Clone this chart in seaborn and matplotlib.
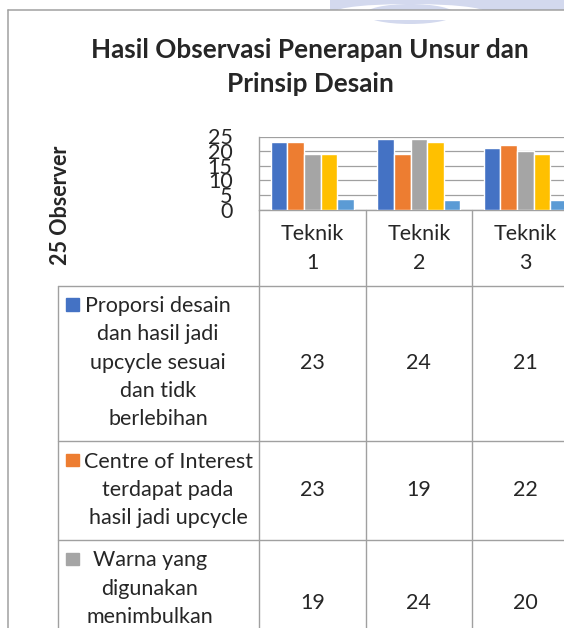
import matplotlib
matplotlib.use("Agg")
import matplotlib.pyplot as plt
import matplotlib.transforms as mtrans
from matplotlib.patches import Rectangle, Ellipse
import seaborn as sns
import pandas as pd

# data
judul = "Hasil Observasi Penerapan Unsur dan\nPrinsip Desain"
label_y = "25 Observer"
teknik = ["Teknik 1", "Teknik 2", "Teknik 3"]
seri = [
    "Proporsi desain\ndan hasil jadi\nupcycle sesuai\ndan tidk\nberlebihan",
    "Centre of Interest\nterdapat pada\nhasil jadi upcycle",
    "Warna yang\ndigunakan\nmenimbulkan",
    "Seri 4",
    "Seri 5",
]
proporsi = [23, 24, 21]
centre = [23, 19, 22]
warna = [19, 24, 20]
seri4 = [19, 23, 19]
seri5 = [3.7, 3.3, 3.3]
warna_bar = ["#4472C4", "#ED7D31", "#A5A5A5", "#FFC000", "#5B9BD5"]
yticks = [0, 5, 10, 15, 20, 25]

nilai = [proporsi, centre, warna, seri4, seri5]
rows = []
for s, vals in zip(seri, nilai):
    for t, v in zip(teknik, vals):
        rows.append({"teknik": t, "seri": s, "nilai": v})
df = pd.DataFrame(rows)

sns.set_style("white")
plt.rcParams["font.family"] = ["Lato", "DejaVu Sans"]

W, H = 564, 628
garis = "#A0A0A0"


def fy(py):
    return 1 - py / H


fig = plt.figure(figsize=(W / 100, H / 100), dpi=100)

# tabel / garis bantu dalam koordinat piksel
tab = fig.add_axes([0, 0, 1, 1])
tab.set_xlim(0, W)
tab.set_ylim(H, 0)
tab.axis("off")

# sisa watermark di atas
tab.add_patch(Rectangle((330, 0), W - 330, 9.5, color="#D3D9EE", lw=0))
tab.add_patch(Ellipse((410, 12), 150, 16, color="white", lw=0))
tab.add_patch(Ellipse((410, 14), 90, 20, color="#D3D9EE", lw=0))
tab.add_patch(Rectangle((330, 9.5), W - 330, 10, color="white", lw=0))

ax = fig.add_axes([259 / W, fy(209.5), (578.7 - 259) / W, (209.5 - 136.5) / H])
sns.barplot(data=df, x="teknik", y="nilai", hue="seri", palette=warna_bar,
            width=0.78, gap=0, saturation=1, legend=False, ax=ax, zorder=3)
ax.set_xlim(-0.5, 2.5)
ax.set_ylim(0, 25)
ax.set_yticks(yticks)
ax.set_yticklabels([str(v) for v in yticks], fontsize=15.5)
ax.set_xticks([])
ax.set_xlabel("")
ax.tick_params(axis="y", length=0, pad=19)
ax.yaxis.grid(True, color=garis, lw=0.9)
ax.set_axisbelow(True)
ax.patch.set_visible(False)
for sp in ["top", "right"]:
    ax.spines[sp].set_visible(False)
for sp in ["left", "bottom"]:
    ax.spines[sp].set_color(garis)
    ax.spines[sp].set_linewidth(1.0)
ax.set_ylabel(label_y, fontsize=15.5, fontweight="bold")
ax.yaxis.set_label_coords((71 - 259) / (578.7 - 259), (209.5 - 205) / 73)

fig.text(310 / W, fy(67.5), judul, ha="center", va="center", fontsize=18.8,
         fontweight="bold", linespacing=1.5)

trans = mtrans.blended_transform_factory(ax.transData, tab.transData)

# bingkai chart
tab.plot([8, 8], [10, H], color=garis, lw=1.1)
tab.plot([8, W], [10, 10], color=garis, lw=1.1)

# kolom tabel
for i in range(len(teknik) + 1):
    tab.plot([i - 0.5, i - 0.5], [209.5, H], color=garis, lw=1.0, transform=trans)
    if i < len(teknik):
        tab.text(i, 248.5, teknik[i].replace(" ", "\n"), transform=trans,
                 ha="center", va="center", fontsize=15.5, linespacing=1.55)

baris = [285.5, 441, 540, 666]
tab.plot([57.7, 57.7], [baris[0], H], color=garis, lw=1.0)
for y in baris[:3]:
    tab.plot([57.7, W], [y, y], color=garis, lw=1.0)

pusat_label = [158, 168, 150]
for r in range(3):
    top, bot = baris[r], baris[r + 1]
    tab.add_patch(Rectangle((66, top + 12.5), 12.5, 12.5, color=warna_bar[r]))
    tab.text(pusat_label[r], top + 10.5, seri[r], ha="center", va="top",
             multialignment="center", fontsize=15.5, linespacing=1.52)
    for c in range(len(teknik)):
        tab.text(c, (top + bot) / 2, f"{nilai[r][c]:g}", transform=trans,
                 ha="center", va="center", fontsize=15.5)

fig.savefig("out.png", dpi=100)
